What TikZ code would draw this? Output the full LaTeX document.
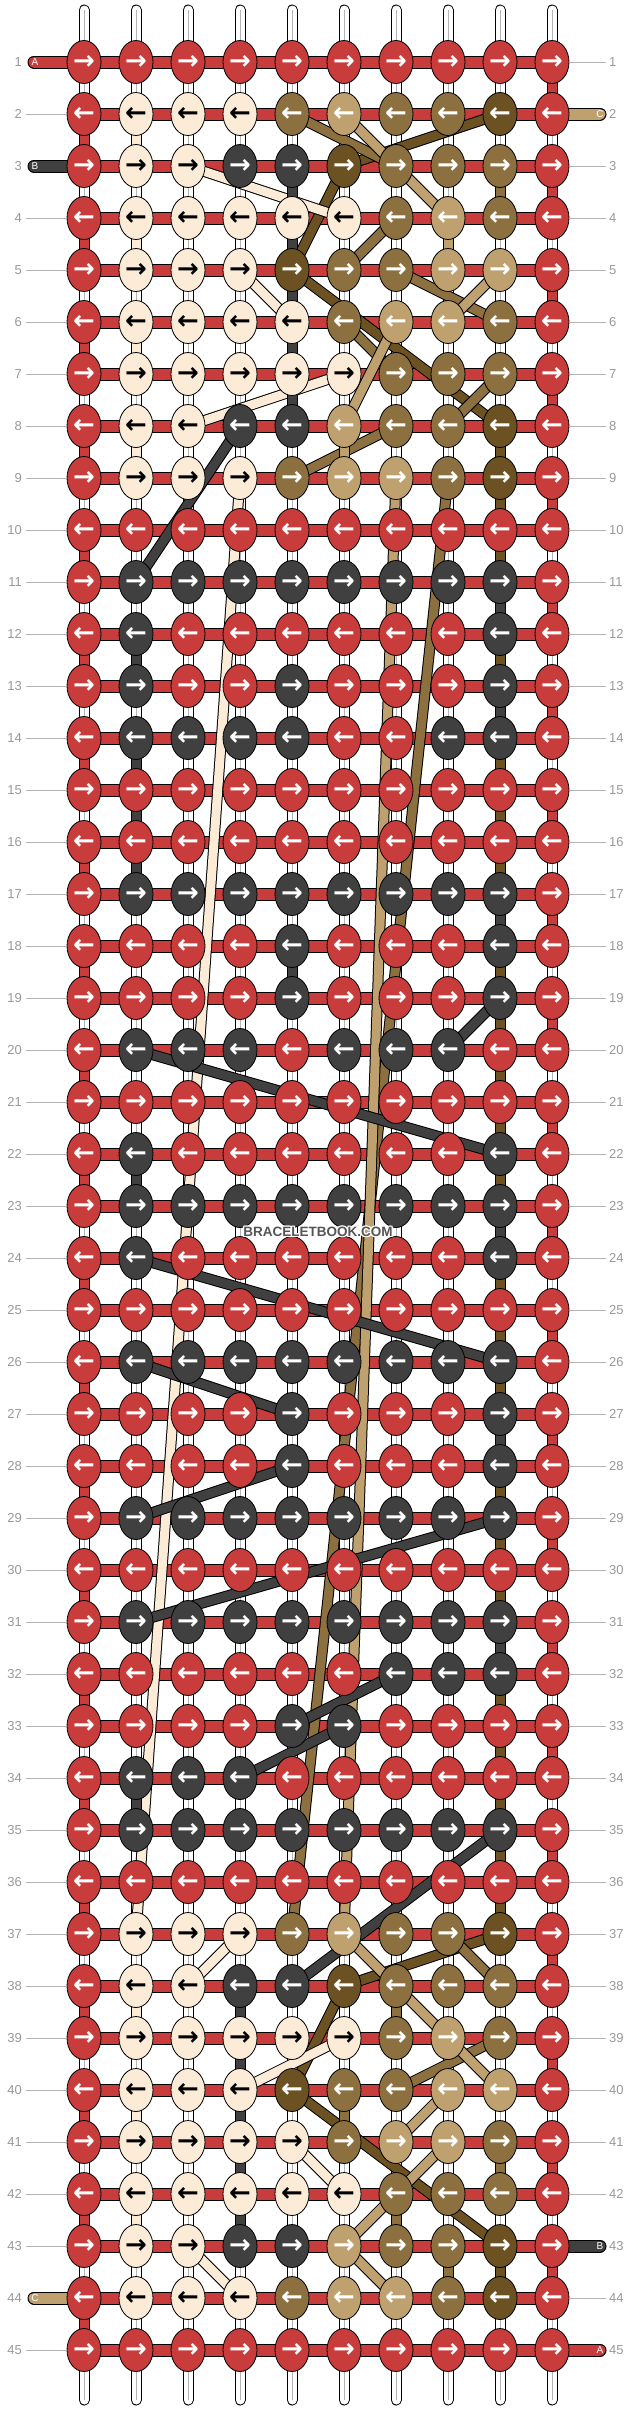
\documentclass[tikz,border=0pt]{standalone}
\usepackage{fontspec}
\setmainfont{Liberation Sans}
\newfontfamily\arrowfont{DejaVu Sans}
\usetikzlibrary{shapes.geometric}
\definecolor{cR}{HTML}{C83C3C}
\definecolor{cK}{HTML}{404040}
\definecolor{cW}{HTML}{FBEBD7}
\definecolor{cM}{HTML}{8C7040}
\definecolor{cT}{HTML}{BFA06F}
\definecolor{cD}{HTML}{6C5222}
\definecolor{lbl}{HTML}{999999}
\definecolor{stub}{HTML}{B4B4B4}
\definecolor{wmark}{HTML}{555555}
\tikzset{
 knot/.style={ellipse, draw=black, line width=0.8pt, minimum width=34pt, minimum height=43pt, inner sep=0pt, font=\arrowfont\bfseries\fontsize{26}{26}\selectfont},
 knotR/.style={knot, fill=cR, text=white},
 knotK/.style={knot, fill=cK, text=white},
 knotW/.style={knot, fill=cW, text=black},
 knotM/.style={knot, fill=cM, text=white},
 knotT/.style={knot, fill=cT, text=white},
 knotD/.style={knot, fill=cD, text=white},
 bandout/.style={line width=11pt, draw=black},
 bandin/.style={line width=9pt, draw=#1},
 barout/.style={line width=13pt, draw=black},
 barin/.style={line width=11pt, draw=cR},
 rodout/.style={line width=11pt, draw=black, line cap=round},
 rodin/.style={line width=9pt, draw=white, line cap=round},
 rodmid/.style={line width=0.8pt, draw=stub},
 endout/.style={line width=13pt, draw=black, line cap=round},
 endin/.style={line width=11pt, draw=#1, line cap=round},
 rowlbl/.style={text=lbl, font=\fontsize{13}{13}\selectfont, inner sep=0pt},
 stubline/.style={draw=stub, line width=1pt},
 endlbl/.style={text=white, font=\fontsize{10}{10}\selectfont, inner sep=0pt},
 wm/.style={font=\bfseries\fontsize{13.5}{14}\selectfont, inner sep=0pt},
}
\newcommand\strseg[3]{\draw[bandout] (#1)--(#2); \draw[bandin=#3] (#1)--(#2);}
\begin{document}
\begin{tikzpicture}[x=1pt,y=-1pt]
\useasboundingbox (0,0) rectangle (636,2412);
\fill[white] (0,0) rectangle (636,2412);
% grid coordinates
\foreach \r in {1,...,45}{\foreach \c in {1,...,10}{
  \coordinate (p-\r-\c) at ({84+52*(\c-1)},{62+52*(\r-1)});}}
% warp rods
\foreach \c in {1,...,10}{
  \coordinate (rt-\c) at ({84+52*(\c-1)},10);
  \coordinate (rb-\c) at ({84+52*(\c-1)},2400);
  \draw[rodout] (rt-\c)--(rb-\c);
  \draw[rodin] (rt-\c)--(rb-\c);
  \draw[rodmid] (rt-\c)--(rb-\c);
}
% string A: row bars and turns
\foreach \r in {1,...,45}{\draw[barout] (p-\r-1)--(p-\r-10);}
\foreach \r [evaluate=\r as \n using int(\r+1)] in {1,...,44}{
  \ifodd\r \strseg{p-\r-10}{p-\n-10}{cR}\else \strseg{p-\r-1}{p-\n-1}{cR}\fi}
\foreach \r in {1,...,45}{\draw[barin] (p-\r-1)--(p-\r-10);}
% end bars
\coordinate (eA1) at (34,62);   \coordinate (eC2) at (600,114);
\coordinate (eB3) at (34,166);  \coordinate (eB43) at (600,2246);
\coordinate (eC44) at (34,2298); \coordinate (eA45) at (600,2350);
\draw[endout] (eA1)--(p-1-1);   \draw[endin=cR] (eA1)--(p-1-1);
\draw[endout] (eC2)--(p-2-10);  \draw[endin=cT] (eC2)--(p-2-10);
\draw[endout] (eB3)--(p-3-1);   \draw[endin=cK] (eB3)--(p-3-1);
\draw[endout] (eB43)--(p-43-10); \draw[endin=cK] (eB43)--(p-43-10);
\draw[endout] (eC44)--(p-44-1); \draw[endin=cT] (eC44)--(p-44-1);
\draw[endout] (eA45)--(p-45-10); \draw[endin=cR] (eA45)--(p-45-10);
\node[endlbl] (tA1) at (35,62) {A};
\node[endlbl] (tC2) at (600,114) {C};
\node[endlbl] (tB3) at (35,166) {B};
\node[endlbl] (tB43) at (600,2246) {B};
\node[endlbl] (tC44) at (35,2298) {C};
\node[endlbl] (tA45) at (600,2350) {A};
% dark brown string
\foreach \a/\b/\c/\d in {2/9/3/6,3/6/5/5,5/5/8/9,8/9/9/9,9/9/37/9,37/9/38/6,38/6/40/5,40/5/43/9,43/9/44/9}
  {\strseg{p-\a-\b}{p-\c-\d}{cD}}
% medium brown string
\foreach \a/\b/\c/\d in {2/5/3/7,3/9/4/9,4/7/5/6,5/7/6/9,6/6/7/7,7/9/8/8,8/7/9/5,9/8/37/5,37/8/38/9,38/7/39/7,39/9/40/7,40/6/41/6,41/9/42/9,42/7/43/7,43/8/44/8}
  {\strseg{p-\a-\b}{p-\c-\d}{cM}}
% cream string
\foreach \a/\b/\c/\d in {2/2/3/2,3/3/4/6,4/2/5/2,5/4/6/5,6/2/7/2,7/6/8/3,8/2/9/2,9/4/37/2,37/4/38/3,38/2/39/2,39/6/40/4,40/2/41/2,41/5/42/6,42/2/43/2,43/3/44/4}
  {\strseg{p-\a-\b}{p-\c-\d}{cW}}
% tan string C
\foreach \a/\b/\c/\d in {2/6/4/8,4/8/5/8,5/9/6/8,6/7/8/6,8/6/9/6,9/7/37/6,37/6/39/8,39/8/40/9,40/8/41/7,41/8/43/6,43/6/44/7}
  {\strseg{p-\a-\b}{p-\c-\d}{cT}}
% dark grey string B
\foreach \a/\b/\c/\d in {3/5/8/5,8/4/11/2,11/9/12/9,12/2/13/2,13/9/14/9,14/2/17/2,17/9/18/9,18/5/19/5,19/9/20/8,20/2/22/9,22/2/23/2,23/9/24/9,24/2/26/9,26/2/27/5,27/9/28/9,28/5/29/2,29/9/31/2,31/9/32/9,32/7/33/5,33/6/34/4,34/2/35/2,35/9/38/5,38/4/43/4}
  {\strseg{p-\a-\b}{p-\c-\d}{cK}}
% knots
\foreach \r/\cl in {
 1/{R,R,R,R,R,R,R,R,R,R},
 2/{R,W,W,W,M,T,M,M,D,R},
 3/{R,W,W,K,K,D,M,M,M,R},
 4/{R,W,W,W,W,W,M,T,M,R},
 5/{R,W,W,W,D,M,M,T,T,R},
 6/{R,W,W,W,W,M,T,T,M,R},
 7/{R,W,W,W,W,W,M,M,M,R},
 8/{R,W,W,K,K,T,M,M,D,R},
 9/{R,W,W,W,M,T,T,M,D,R},
 10/{R,R,R,R,R,R,R,R,R,R},
 11/{R,K,K,K,K,K,K,K,K,R},
 12/{R,K,R,R,R,R,R,R,K,R},
 13/{R,K,R,R,K,R,R,R,K,R},
 14/{R,K,K,K,K,R,R,K,K,R},
 15/{R,R,R,R,R,R,R,R,R,R},
 16/{R,R,R,R,R,R,R,R,R,R},
 17/{R,K,K,K,K,K,K,K,K,R},
 18/{R,R,R,R,K,R,R,R,K,R},
 19/{R,R,R,R,K,R,R,R,K,R},
 20/{R,K,K,K,R,K,K,K,R,R},
 21/{R,R,R,R,R,R,R,R,R,R},
 22/{R,K,R,R,R,R,R,R,K,R},
 23/{R,K,K,K,K,K,K,K,K,R},
 24/{R,K,R,R,R,R,R,R,K,R},
 25/{R,R,R,R,R,R,R,R,R,R},
 26/{R,K,K,K,K,K,K,K,K,R},
 27/{R,R,R,R,K,R,R,R,K,R},
 28/{R,R,R,R,K,R,R,R,K,R},
 29/{R,K,K,K,K,K,K,K,K,R},
 30/{R,R,R,R,R,R,R,R,R,R},
 31/{R,K,K,K,K,K,K,K,K,R},
 32/{R,R,R,R,R,R,K,K,K,R},
 33/{R,R,R,R,K,K,R,R,R,R},
 34/{R,K,K,K,R,R,R,R,R,R},
 35/{R,K,K,K,K,K,K,K,K,R},
 36/{R,R,R,R,R,R,R,R,R,R},
 37/{R,W,W,W,M,T,M,M,D,R},
 38/{R,W,W,K,K,D,M,M,M,R},
 39/{R,W,W,W,W,W,M,T,M,R},
 40/{R,W,W,W,D,M,M,T,T,R},
 41/{R,W,W,W,W,M,T,T,M,R},
 42/{R,W,W,W,W,W,M,M,M,R},
 43/{R,W,W,K,K,T,M,M,D,R},
 44/{R,W,W,W,M,T,T,M,D,R},
 45/{R,R,R,R,R,R,R,R,R,R}}{
  \foreach \k [count=\c] in \cl {
    \ifodd\r \def\arr{→}\else \def\arr{←}\fi
    \node[knot\k] (k-\r-\c) at (p-\r-\c) {\arr};
  }
}
% row labels and stubs
\foreach \r in {1,...,45}{
  \node[rowlbl, anchor=east] (ll-\r) at (22,{62+52*(\r-1)}) {\r};
  \node[rowlbl, anchor=west] (rl-\r) at (609,{62+52*(\r-1)}) {\r};
}
\foreach \r in {2,4,5,6,7,8,9,10,11,12,13,14,15,16,17,18,19,20,21,22,23,24,25,26,27,28,29,30,31,32,33,34,35,36,37,38,39,40,41,42,43,45}{
  \coordinate (sl-\r) at (26,{62+52*(\r-1)});
  \draw[stubline] (sl-\r)--(k-\r-1.west);
}
\foreach \r in {1,3,4,5,6,7,8,9,10,11,12,13,14,15,16,17,18,19,20,21,22,23,24,25,26,27,28,29,30,31,32,33,34,35,36,37,38,39,40,41,42,44}{
  \coordinate (sr-\r) at (606,{62+52*(\r-1)});
  \draw[stubline] (k-\r-10.east)--(sr-\r);
}
% watermark
\foreach \dx/\dy [count=\i] in {-1/0,1/0,0/-1,0/1,-1/-1,1/1,-1/1,1/-1}{
  \node[wm, text=white] (wh-\i) at ({318+\dx},{1232+\dy}) {BRACELETBOOK.COM};}
\node[wm, text=wmark] (wm) at (318,1232) {BRACELETBOOK.COM};
\end{tikzpicture}
\end{document}
